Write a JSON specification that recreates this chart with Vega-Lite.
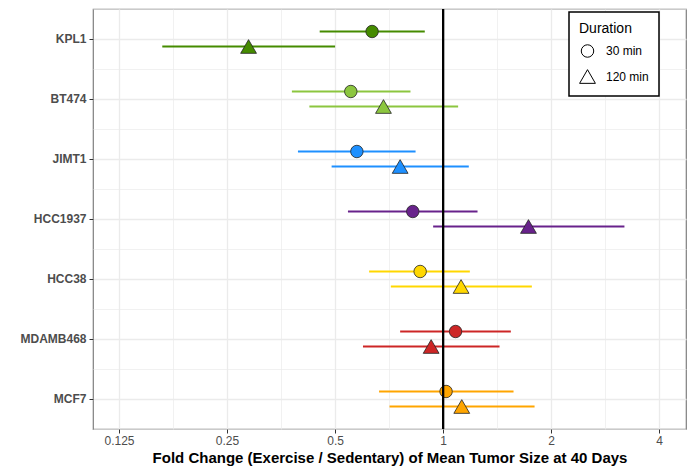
{
  "$schema": "https://vega.github.io/schema/vega-lite/v6.json",
  "width": 593,
  "height": 420,
  "autosize": {"type": "none"},
  "padding": {"left": 93, "top": 9, "right": 5, "bottom": 37},
  "background": "white",
  "config": {
    "font": "Liberation Sans",
    "view": {"stroke": "#7f7f7f", "strokeWidth": 1.2},
    "axis": {"gridColor": "#ebebeb"},
    "legend": {
      "titleFontSize": 14, "titleFontWeight": "normal", "titleColor": "black", "titlePadding": 8,
      "labelFontSize": 12, "labelColor": "black", "labelOffset": 10,
      "strokeColor": "black", "strokeWidth": 1.5, "fillColor": "white", "padding": 10,
      "symbolFillColor": "white", "symbolStrokeColor": "black", "symbolStrokeWidth": 1,
      "rowPadding": 7
    }
  },
  "data": {
    "values": [
      {"line": "KPL1", "Duration": "30 min", "est": 0.634, "lo": 0.453, "hi": 0.889},
      {"line": "KPL1", "Duration": "120 min", "est": 0.287, "lo": 0.165, "hi": 0.5},
      {"line": "BT474", "Duration": "30 min", "est": 0.553, "lo": 0.379, "hi": 0.811},
      {"line": "BT474", "Duration": "120 min", "est": 0.682, "lo": 0.424, "hi": 1.101},
      {"line": "JIMT1", "Duration": "30 min", "est": 0.575, "lo": 0.394, "hi": 0.838},
      {"line": "JIMT1", "Duration": "120 min", "est": 0.759, "lo": 0.489, "hi": 1.179},
      {"line": "HCC1937", "Duration": "30 min", "est": 0.823, "lo": 0.543, "hi": 1.247},
      {"line": "HCC1937", "Duration": "120 min", "est": 1.729, "lo": 0.938, "hi": 3.2},
      {"line": "HCC38", "Duration": "30 min", "est": 0.863, "lo": 0.622, "hi": 1.187},
      {"line": "HCC38", "Duration": "120 min", "est": 1.122, "lo": 0.715, "hi": 1.767},
      {"line": "MDAMB468", "Duration": "30 min", "est": 1.083, "lo": 0.759, "hi": 1.544},
      {"line": "MDAMB468", "Duration": "120 min", "est": 0.926, "lo": 0.598, "hi": 1.436},
      {"line": "MCF7", "Duration": "30 min", "est": 1.019, "lo": 0.663, "hi": 1.571},
      {"line": "MCF7", "Duration": "120 min", "est": 1.127, "lo": 0.709, "hi": 1.798}
    ]
  },
  "resolve": {"axis": {"y": "independent"}},
  "layer": [
    {
      "mark": {"type": "rule", "strokeWidth": 2},
      "encoding": {
        "y": {
          "field": "line", "type": "nominal",
          "scale": {"domain": ["KPL1", "BT474", "JIMT1", "HCC1937", "HCC38", "MDAMB468", "MCF7"], "paddingInner": 0, "paddingOuter": 0},
          "axis": {"title": null, "orient": "left", "labelFontWeight": "bold", "labelFontSize": 12, "labelColor": "#4d4d4d", "tickColor": "#333333", "tickSize": 4, "labelPadding": 3, "grid": true, "gridWidth": 1.3, "domain": false}
        },
        "yOffset": {
          "field": "Duration", "type": "nominal",
          "scale": {"domain": ["30 min", "120 min"], "paddingInner": 0, "paddingOuter": 1.1}
        },
        "x": {
          "field": "lo", "type": "quantitative",
          "scale": {"type": "log", "base": 2, "domain": [0.1058, 4.75], "nice": false, "zero": false},
          "axis": {
            "title": "Fold Change (Exercise / Sedentary) of Mean Tumor Size at 40 Days",
            "titleFontSize": 15, "titleFontWeight": "bold", "titleColor": "black", "titlePadding": 4,
            "values": [0.125, 0.1767767, 0.25, 0.3535534, 0.5, 0.7071068, 1, 1.4142136, 2, 2.8284271, 4],
            "labelExpr": "indexof([0.125,0.25,0.5,1,2,4], datum.value) >= 0 ? '' + datum.value : ''",
            "labelFontSize": 12, "labelColor": "#4d4d4d", "labelPadding": 2,
            "tickSize": 4, "tickColor": "#333333",
            "tickOpacity": {"condition": {"test": "indexof([0.125,0.25,0.5,1,2,4], datum.value) < 0", "value": 0}, "value": 1},
            "gridWidth": {"condition": {"test": "indexof([0.125,0.25,0.5,1,2,4], datum.value) < 0", "value": 0.7}, "value": 1.3},
            "domain": false, "labelOverlap": false
          }
        },
        "x2": {"field": "hi"},
        "color": {
          "field": "line", "type": "nominal",
          "scale": {"domain": ["KPL1", "BT474", "JIMT1", "HCC1937", "HCC38", "MDAMB468", "MCF7"], "range": ["#458B00", "#8CC63F", "#1E90FF", "#68228B", "#FFD700", "#CD2626", "#FFA500"]},
          "legend": null
        }
      }
    },
    {
      "mark": {"type": "point", "filled": true, "stroke": "#222222", "strokeWidth": 0.8, "opacity": 1},
      "encoding": {
        "y": {
          "field": "line", "type": "nominal",
          "axis": {"title": null, "orient": "left", "labels": false, "ticks": false, "domain": false, "grid": true, "gridWidth": 0.7, "tickBand": "extent"}
        },
        "yOffset": {"field": "Duration", "type": "nominal"},
        "x": {"field": "est", "type": "quantitative"},
        "fill": {
          "field": "line", "type": "nominal",
          "scale": {"domain": ["KPL1", "BT474", "JIMT1", "HCC1937", "HCC38", "MDAMB468", "MCF7"], "range": ["#458B00", "#8CC63F", "#1E90FF", "#68228B", "#FFD700", "#CD2626", "#FFA500"]},
          "legend": null
        },
        "shape": {
          "field": "Duration", "type": "nominal",
          "scale": {"domain": ["30 min", "120 min"], "range": ["circle", "triangle-up"]},
          "legend": {"title": "Duration", "orient": "none", "legendX": 476, "legendY": 3}
        },
        "size": {
          "field": "Duration", "type": "nominal",
          "scale": {"domain": ["30 min", "120 min"], "range": [155, 250]},
          "legend": {"title": "Duration", "orient": "none", "legendX": 476, "legendY": 3}
        }
      }
    },
    {
      "mark": {"type": "rule", "color": "black", "strokeWidth": 1.8},
      "encoding": {"x": {"datum": 1, "type": "quantitative"}}
    }
  ]
}
